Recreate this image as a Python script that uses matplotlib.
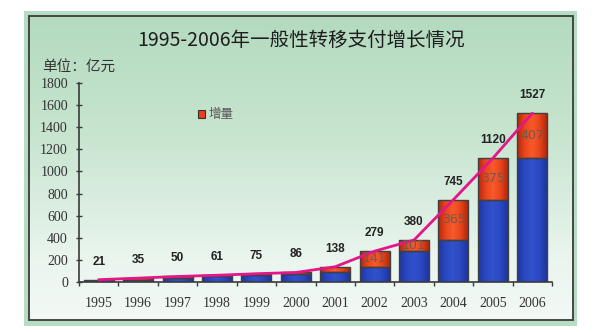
import numpy as np
import matplotlib
matplotlib.use('Agg')
import matplotlib.pyplot as plt
from matplotlib.patches import Rectangle
from matplotlib.colors import LinearSegmentedColormap

plt.rcParams['font.family'] = ['Noto Sans CJK SC', 'DejaVu Sans']

years = ['1995', '1996', '1997', '1998', '1999', '2000',
         '2001', '2002', '2003', '2004', '2005', '2006']
totals = [21, 35, 50, 61, 75, 86, 138, 279, 380, 745, 1120, 1527]
increments = [0, 14, 15, 11, 14, 11, 52, 141, 101, 365, 375, 407]
labelled_increments = ['2002', '2003', '2004', '2005', '2006']
y_ticks = [0, 200, 400, 600, 800, 1000, 1200, 1400, 1600, 1800]

title = '1995-2006年一般性转移支付增长情况'
unit_text = '单位：亿元'
legend_text = '增量'

W, H = 600, 332
fig = plt.figure(figsize=(W / 100, H / 100), dpi=100)
fig.patch.set_facecolor('white')

# background panel in pixel coordinates
bg = fig.add_axes([0, 0, 1, 1], zorder=0)
bg.axis('off')
bg.add_patch(Rectangle((24, 11), 553, 315, facecolor='#b6dcc2',
                       edgecolor='none', zorder=1))
panel_cmap = LinearSegmentedColormap.from_list(
    'panel', [(0, '#b3dabf'), (0.4, '#c8e5d0'), (0.8, '#eaf5ee'), (1, '#f3f9f5')])
grad = np.linspace(0, 1, 256).reshape(-1, 1)
bg.imshow(grad, cmap=panel_cmap, extent=[29, 573, 320, 16], aspect='auto',
          interpolation='bilinear', zorder=2)
bg.add_patch(Rectangle((29, 16), 544, 304, facecolor='none',
                       edgecolor='#3a3a3a', linewidth=1.3, zorder=3))
bg.set_xlim(0, W)
bg.set_ylim(H, 0)

fig.text(301 / W, 1 - 40 / H, title, ha='center', va='center',
         fontsize=14, color='#1e1e1e')
fig.text(42 / W, 1 - 67 / H, unit_text, ha='left', va='center',
         fontsize=10.5, color='#333333')

ax = fig.add_axes([79 / W, 1 - 282 / H, 473 / W, 199 / H], zorder=1)
ax.set_facecolor('none')

red_cmap = LinearSegmentedColormap.from_list(
    'red', ['#b4260c', '#e8461c', '#f85a2c', '#e8461c', '#b4260c'])
blue_cmap = LinearSegmentedColormap.from_list(
    'blue', ['#1d35a0', '#2a48c0', '#3152cc', '#2a48c0', '#1d35a0'])
hgrad = np.linspace(0, 1, 64).reshape(1, -1)

bar_w = 0.76
x = np.arange(len(years))


def gradient_bar(xc, bottom, height, cmap):
    if height <= 0:
        return
    rect = Rectangle((xc - bar_w / 2, bottom), bar_w, height,
                     facecolor='none', edgecolor='#404040', linewidth=1.0, zorder=3)
    ax.add_patch(rect)
    im = ax.imshow(hgrad, cmap=cmap, aspect='auto', interpolation='bilinear',
                   extent=[xc - bar_w / 2, xc + bar_w / 2, bottom, bottom + height],
                   zorder=2)
    im.set_clip_path(rect)


for xi, tot, inc in zip(x, totals, increments):
    base = tot - inc
    gradient_bar(xi, 0, base, blue_cmap)
    gradient_bar(xi, base, inc, red_cmap)

ax.plot(x, totals, color='#e5158a', linewidth=2, zorder=4, solid_capstyle='round')

for xi, yr, tot, inc in zip(x, years, totals, increments):
    ax.annotate(str(tot), (xi, tot), xytext=(0, 13), textcoords='offset points',
                ha='center', va='center', fontsize=8.5, fontweight='bold',
                color='#222222', family=['Liberation Sans', 'DejaVu Sans'], zorder=5)
    if yr in labelled_increments:
        ax.text(xi, tot - inc / 2, str(inc), ha='center', va='center',
                fontsize=9, color='#6e5852',
                family=['Liberation Sans Narrow', 'DejaVu Sans Condensed', 'DejaVu Sans'],
                zorder=5)

ax.set_xlim(-0.5, len(years) - 0.5)
ax.set_ylim(0, 1800)

for side in ['top', 'right']:
    ax.spines[side].set_visible(False)
for side in ['left', 'bottom']:
    ax.spines[side].set_color('#3a3a3a')
    ax.spines[side].set_linewidth(1.2)

ax.set_yticks(y_ticks)
ax.set_yticklabels([str(v) for v in y_ticks], family=['Liberation Serif', 'DejaVu Serif'],
                   fontsize=10, color='#333333')
ax.tick_params(axis='y', direction='inout', length=4, width=1, color='#3a3a3a', pad=6)

ax.set_xticks(x)
ax.set_xticklabels(years, family=['Liberation Serif', 'DejaVu Serif'],
                   fontsize=10, color='#333333')
ax.set_xticks(np.arange(len(years) + 1) - 0.5, minor=True)
ax.tick_params(axis='x', which='major', length=0, pad=11)
ax.tick_params(axis='x', which='minor', direction='out', length=3, width=1,
               color='#3a3a3a')

# legend for the increment segment
fig.patches.append(Rectangle((198 / W, 1 - 118 / H), 7 / W, 8 / H,
                             transform=fig.transFigure, facecolor='#f03a18',
                             edgecolor='#333333', linewidth=0.8, zorder=3))
fig.text(209 / W, 1 - 114 / H, legend_text, ha='left', va='center',
         fontsize=9, color='#555555')

fig.savefig('out.png', dpi=100)
